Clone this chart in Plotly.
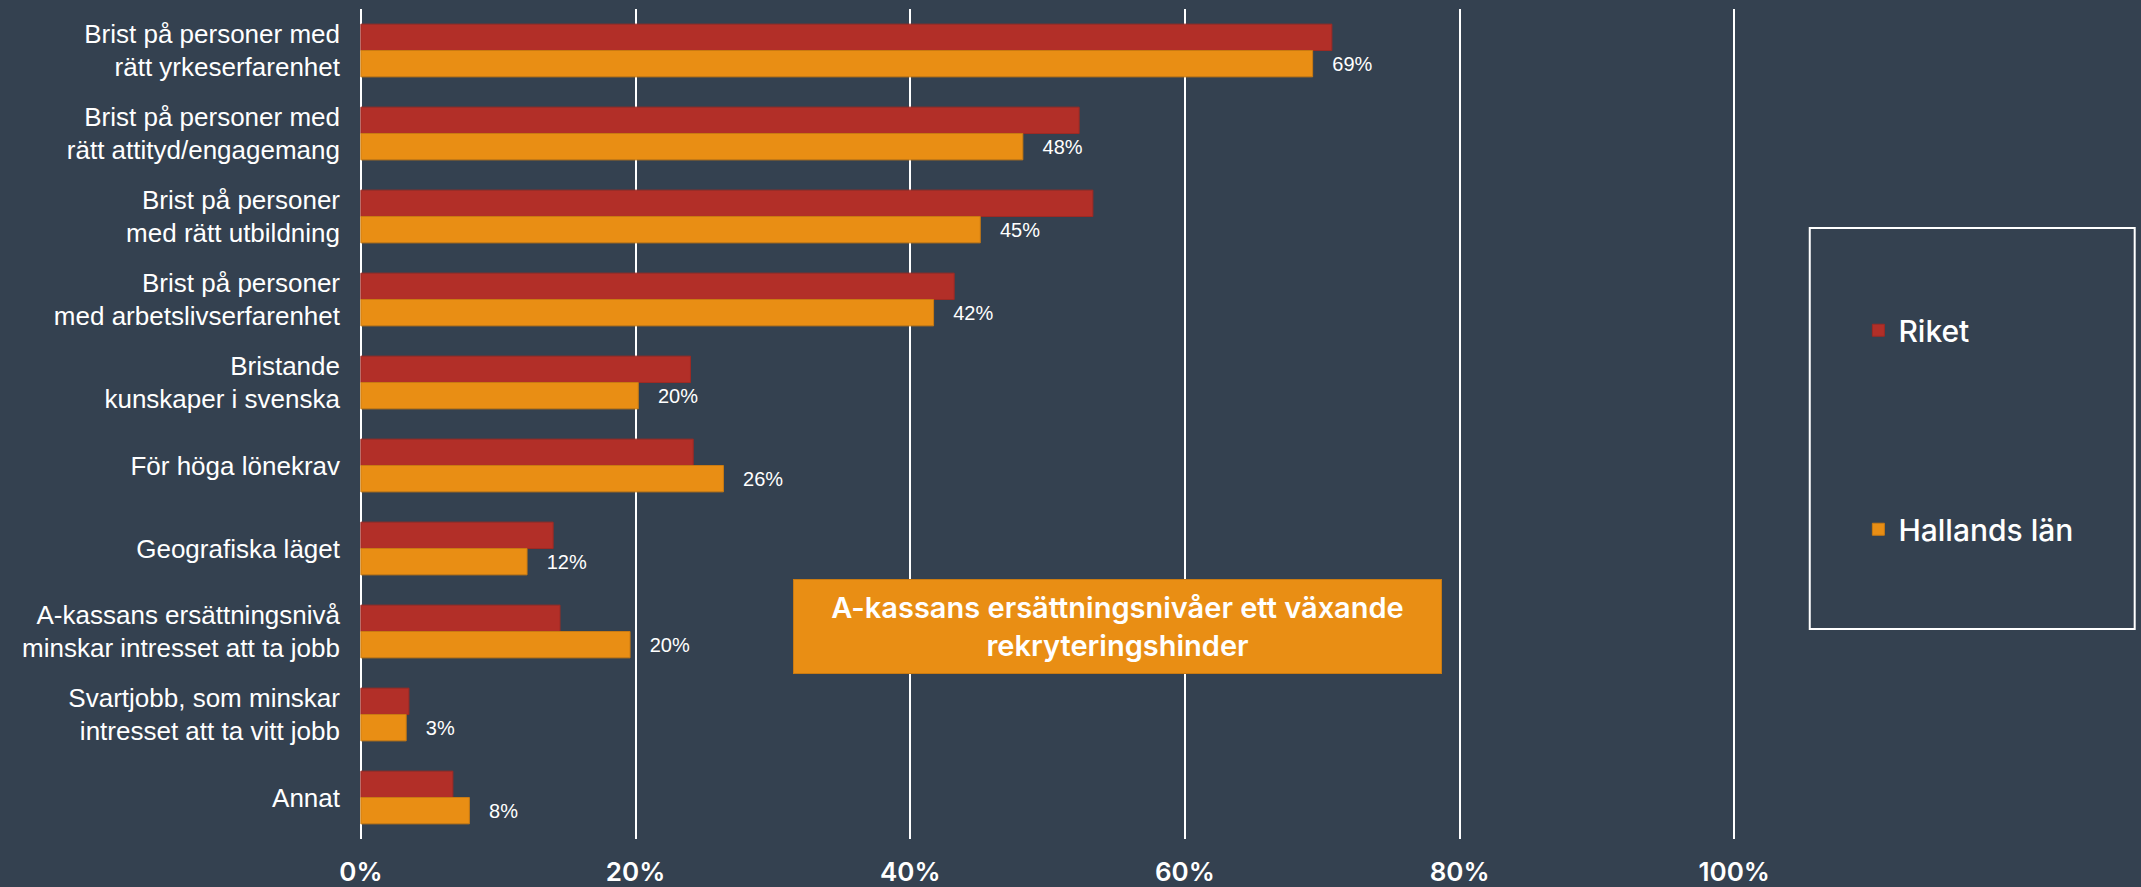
import plotly.graph_objects as go

categories = [
    "Brist på personer med<br>rätt yrkeserfarenhet",
    "Brist på personer med<br>rätt attityd/engagemang",
    "Brist på personer<br>med rätt utbildning",
    "Brist på personer<br>med arbetslivserfarenhet",
    "Bristande<br>kunskaper i svenska",
    "För höga lönekrav",
    "Geografiska läget",
    "A-kassans ersättningsnivå<br>minskar intresset att ta jobb",
    "Svartjobb, som minskar<br>intresset att ta vitt jobb",
    "Annat",
]
riket = [70.7, 52.3, 53.3, 43.2, 24.0, 24.2, 14.0, 14.5, 3.5, 6.7]
hallands = [69.3, 48.2, 45.1, 41.7, 20.2, 26.4, 12.1, 19.6, 3.3, 7.9]
series_names = ["Riket", "Hallands län"]
tick_vals = [0, 20, 40, 60, 80, 100]
tick_text = ["0%", "20%", "40%", "60%", "80%", "100%"]
callout = "A-kassans ersättningsnivåer ett växande<br>rekryteringshinder"

BG = "#344150"
RED = "#B22F28"
ORANGE = "#E98E14"

fig = go.Figure()
fig.add_trace(go.Bar(
    y=categories, x=riket, orientation="h", name=series_names[0],
    marker=dict(color=RED, line=dict(color="#9c2a24", width=1)),
    legendgroup="a",
))
fig.add_trace(go.Bar(
    y=categories, x=hallands, orientation="h", name=series_names[1],
    marker=dict(color=ORANGE, line=dict(color="#c97a12", width=1)),
    texttemplate="\u00a0\u00a0\u00a0%{x:.0f}%", textposition="outside",
    textfont=dict(family="Liberation Sans", size=20, color="white"),
    cliponaxis=False, legendgroup="b",
))

W, H = 2141, 887
fig.update_layout(
    width=W, height=H,
    paper_bgcolor=BG, plot_bgcolor=BG,
    barmode="group", bargap=0.365, bargroupgap=0,
    margin=dict(l=353.6, r=392.8, t=9, b=48, pad=0, autoexpand=False),
    showlegend=True,
    legend=dict(
        xref="container", yref="container", x=0.868, y=0.657,
        xanchor="left", yanchor="top",
        font=dict(family="Inter", size=30, color="white", weight=500),
        tracegroupgap=157, bgcolor="rgba(0,0,0,0)", borderwidth=0,
        itemclick=False,
    ),
    xaxis=dict(
        range=[-0.5, 101], tickvals=tick_vals, ticktext=tick_text,
        showgrid=True, gridcolor="white", gridwidth=1.5,
        zeroline=False, showline=False, ticks="", automargin=False,
        tickfont=dict(family="Inter", size=26, color="white", weight=600),
        ticklabelstandoff=15,
    ),
    yaxis=dict(
        autorange="reversed", showgrid=False, zeroline=False, showline=False,
        ticks="", ticklabelstandoff=13, automargin=False,
        tickfont=dict(family="Liberation Sans", size=26, color="white"),
    ),
    shapes=[dict(
        type="rect", xref="paper", yref="paper",
        x0=1.0443, x1=1.2774, y0=0.253, y1=0.736,
        line=dict(color="white", width=2), fillcolor="rgba(0,0,0,0)",
    )],
    annotations=[dict(
        text=callout, xref="x", yref="paper", x=55.1, y=0.256,
        xanchor="center", yanchor="middle", showarrow=False,
        font=dict(family="Inter", size=29, color="white", weight=600),
        bgcolor=ORANGE, bordercolor="#c97a12", borderwidth=1, borderpad=4,
        width=639, height=85, align="center",
    )],
)

fig.write_html(
    "out.html",
    config={"displayModeBar": False},
    post_script="document.body.style.margin='0';document.body.style.background='%s';" % BG,
)
